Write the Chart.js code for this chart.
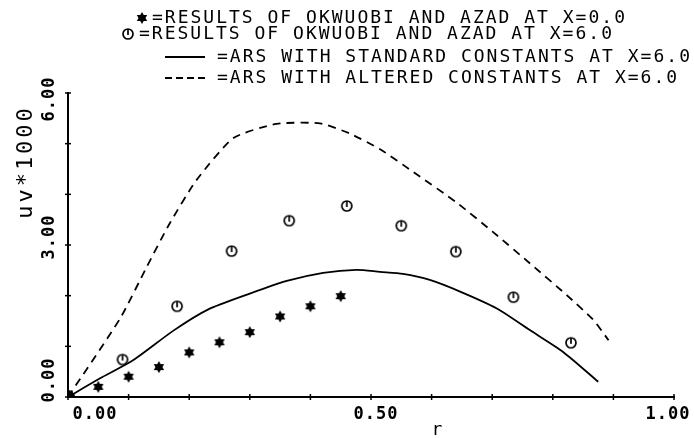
<!DOCTYPE html>
<html>
<head>
<meta charset="utf-8">
<script src="https://cdn.jsdelivr.net/npm/chart.js@4.4.1/dist/chart.umd.min.js"></script>
<style>
  html, body { margin: 0; padding: 0; background: #fff; }
  #wrap { width: 694px; height: 438px; }
</style>
</head>
<body>
<div id="wrap"><canvas id="chart" width="694" height="438"></canvas></div>
<script>
// Okwuobi & Azad measurements at X=0.0 (first point is the origin marker)
const starR = [0, 0.05, 0.10, 0.15, 0.20, 0.25, 0.30, 0.35, 0.40, 0.45];
const starUV = [0, 0.20, 0.40, 0.59, 0.88, 1.08, 1.28, 1.59, 1.79, 1.99];

// Okwuobi & Azad measurements at X=6.0
const circleR = [0.09, 0.18, 0.27, 0.365, 0.46, 0.55, 0.64, 0.735, 0.83];
const circleUV = [0.74, 1.79, 2.88, 3.48, 3.77, 3.38, 2.87, 1.97, 1.07];

// ARS, standard constants, X=6.0
const stdR = [0, 0.053, 0.108, 0.174, 0.23, 0.30, 0.361, 0.421, 0.476, 0.515, 0.553, 0.597, 0.647, 0.707, 0.762, 0.817, 0.875];
const stdUV = [0, 0.37, 0.73, 1.31, 1.72, 2.04, 2.29, 2.45, 2.51, 2.47, 2.43, 2.31, 2.08, 1.75, 1.32, 0.89, 0.30];

// ARS, altered constants, X=6.0
const altR = [0, 0.086, 0.130, 0.168, 0.212, 0.273, 0.344, 0.416, 0.465, 0.515, 0.570, 0.641, 0.702, 0.762, 0.823, 0.867, 0.892];
const altUV = [0, 1.55, 2.57, 3.43, 4.28, 5.11, 5.39, 5.40, 5.20, 4.89, 4.44, 3.84, 3.25, 2.64, 2.01, 1.52, 1.12];

const xLabels = ['0.00', '0.50', '1.00'];
const xLabelValues = [0, 0.5, 1];
const yLabels = ['0.00', '3.00', '6.00'];
const yLabelValues = [0, 3, 6];

const legendTexts = [
  '=RESULTS OF OKWUOBI AND AZAD AT X=0.0',
  '=RESULTS OF OKWUOBI AND AZAD AT X=6.0',
  '=ARS WITH STANDARD CONSTANTS AT X=6.0',
  '=ARS WITH ALTERED CONSTANTS AT X=6.0',
];

const toPoints = (xs, ys) => xs.map((x, i) => ({ x, y: ys[i] }));

// filled six-pointed star marker (two overlapping triangles)
const makeStar = (r) => {
  const c = document.createElement('canvas');
  c.width = c.height = r * 2 + 2;
  const g = c.getContext('2d');
  g.fillStyle = '#000';
  const cx = r + 1, cy = r + 1;
  [-Math.PI / 2, Math.PI / 2].forEach((start) => {
    g.beginPath();
    for (let k = 0; k < 3; k++) {
      const a = start + k * 2 * Math.PI / 3;
      const px = cx + r * Math.cos(a), py = cy + r * Math.sin(a);
      k ? g.lineTo(px, py) : g.moveTo(px, py);
    }
    g.closePath();
    g.fill();
  });
  return c;
};

// open circle with a little stroke inside, as the plotter drew it
const makeCircle = (r) => {
  const c = document.createElement('canvas');
  c.width = c.height = r * 2 + 4;
  const g = c.getContext('2d');
  const cx = r + 2, cy = r + 2;
  g.strokeStyle = '#000';
  g.lineWidth = 1.7;
  g.beginPath();
  g.arc(cx, cy, r, 0, Math.PI * 2);
  g.stroke();
  g.beginPath();
  g.moveTo(cx, cy - r);
  g.lineTo(cx, cy + 1);
  g.stroke();
  return c;
};

const starImg = makeStar(6);
const circleImg = makeCircle(5);

const textFont = '18px "DejaVu Sans Mono"';
const tickFont = 'bold 17px "DejaVu Sans Mono"';

const drawText = (ctx, text, x, y, opts = {}) => {
  ctx.save();
  ctx.font = opts.font || textFont;
  ctx.letterSpacing = opts.spacing || '0px';
  ctx.fillStyle = '#000';
  ctx.textBaseline = 'middle';
  ctx.textAlign = opts.align || 'left';
  ctx.translate(x, y);
  if (opts.rotate) ctx.rotate(opts.rotate);
  ctx.fillText(text, 0, 0);
  ctx.restore();
};

const decorations = {
  id: 'decorations',
  afterDraw(chart) {
    const { ctx, scales: { x, y } } = chart;
    const x0 = x.getPixelForValue(0);
    const y0 = y.getPixelForValue(0);

    // tick marks straddling both axes
    ctx.save();
    ctx.strokeStyle = '#000';
    ctx.lineWidth = 1.5;
    x.ticks.forEach((t) => {
      const px = x.getPixelForValue(t.value);
      ctx.beginPath();
      ctx.moveTo(px, y0 - 3);
      ctx.lineTo(px, y0 + 3);
      ctx.stroke();
    });
    y.ticks.forEach((t) => {
      const py = y.getPixelForValue(t.value);
      ctx.beginPath();
      ctx.moveTo(x0 - 3, py);
      ctx.lineTo(x0 + 3, py);
      ctx.stroke();
    });
    ctx.restore();

    // axis numbers
    const xShift = [27, 5, -6];
    xLabels.forEach((lbl, i) => {
      drawText(ctx, lbl, x.getPixelForValue(xLabelValues[i]) + xShift[i], y0 + 18,
        { font: tickFont, align: 'center', spacing: '1px' });
    });
    const yShift = [-17, -8, 6];
    yLabels.forEach((lbl, i) => {
      drawText(ctx, lbl, x0 - 18, y.getPixelForValue(yLabelValues[i]) + yShift[i],
        { font: tickFont, align: 'center', spacing: '1px', rotate: -Math.PI / 2 });
    });

    // axis titles
    drawText(ctx, 'uv*1000', x0 - 42, 162,
      { font: '22px "DejaVu Sans Mono"', align: 'center', spacing: '3px', rotate: -Math.PI / 2 });
    drawText(ctx, 'r', 437, y0 + 33, { font: textFont, align: 'center' });

    // legend block
    const rowsY = [18, 34, 57, 78];
    const sp = '2px';
    ctx.drawImage(starImg, 142 - starImg.width / 2, rowsY[0] - starImg.height / 2);
    drawText(ctx, legendTexts[0], 152, rowsY[0], { spacing: sp });
    ctx.drawImage(circleImg, 128 - circleImg.width / 2, rowsY[1] - circleImg.height / 2);
    drawText(ctx, legendTexts[1], 139, rowsY[1], { spacing: sp });

    ctx.save();
    ctx.strokeStyle = '#000';
    ctx.lineWidth = 1.8;
    ctx.beginPath();
    ctx.moveTo(165, rowsY[2]);
    ctx.lineTo(205, rowsY[2]);
    ctx.stroke();
    ctx.setLineDash([7, 4]);
    ctx.beginPath();
    ctx.moveTo(165, rowsY[3]);
    ctx.lineTo(205, rowsY[3]);
    ctx.stroke();
    ctx.restore();
    drawText(ctx, legendTexts[2], 217, rowsY[2], { spacing: sp });
    drawText(ctx, legendTexts[3], 217, rowsY[3], { spacing: sp });
  },
};

new Chart(document.getElementById('chart'), {
  type: 'scatter',
  data: {
    datasets: [
      {
        label: 'ARS standard',
        data: toPoints(stdR, stdUV),
        showLine: true,
        borderColor: '#000',
        borderWidth: 1.8,
        pointRadius: 0,
        tension: 0.25,
      },
      {
        label: 'ARS altered',
        data: toPoints(altR, altUV),
        showLine: true,
        borderColor: '#000',
        borderWidth: 1.8,
        borderDash: [8, 6],
        pointRadius: 0,
        tension: 0.2,
      },
      {
        label: 'X=6.0',
        data: toPoints(circleR, circleUV),
        pointStyle: circleImg,
        pointRadius: 6,
      },
      {
        label: 'X=0.0',
        data: toPoints(starR, starUV),
        pointStyle: (c) => (c.dataIndex === 0 ? 'circle' : starImg),
        pointRadius: (c) => (c.dataIndex === 0 ? 6.5 : 6),
        backgroundColor: '#000',
        borderColor: '#000',
      },
    ],
  },
  options: {
    responsive: false,
    animation: false,
    layout: { padding: { left: 68, right: 20, top: 93, bottom: 41 } },
    plugins: { legend: { display: false }, tooltip: { enabled: false } },
    scales: {
      x: {
        type: 'linear',
        min: 0,
        max: 1,
        ticks: { display: false, stepSize: 0.1 },
        grid: { display: false },
        border: { color: '#000', width: 2 },
        afterFit: (s) => { s.height = 0; },
      },
      y: {
        type: 'linear',
        min: 0,
        max: 6,
        ticks: { display: false, stepSize: 1 },
        grid: { display: false },
        border: { color: '#000', width: 2 },
        afterFit: (s) => { s.width = 0; },
      },
    },
  },
  plugins: [decorations],
});
</script>
</body>
</html>
